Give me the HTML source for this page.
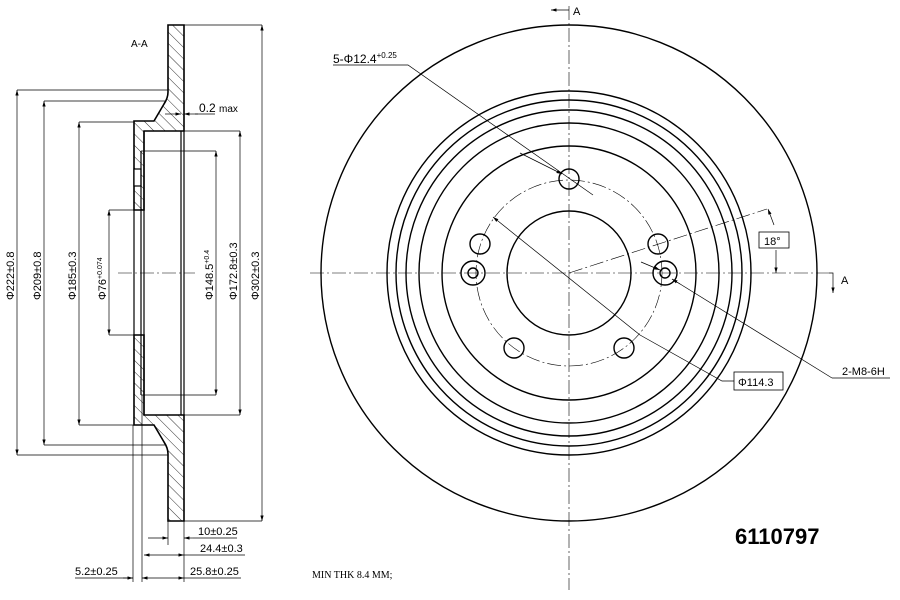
<!DOCTYPE html>
<html><head><meta charset="utf-8"><style>
html,body{margin:0;padding:0;background:#fff;width:900px;height:600px;overflow:hidden}
svg{display:block}
text{font-family:"Liberation Sans",sans-serif;fill:#000}
</style></head><body>
<svg width="900" height="600" viewBox="0 0 900 600" xmlns="http://www.w3.org/2000/svg">
<defs>
<pattern id="h" patternUnits="userSpaceOnUse" width="8" height="8" patternTransform="rotate(-45)">
<line x1="0" y1="0" x2="0" y2="8" stroke="#000" stroke-width="0.8"/>
</pattern>
<marker id="a" viewBox="0 0 10 6" refX="10" refY="3" markerWidth="8" markerHeight="5" orient="auto-start-reverse"><path d="M0,0 L10,3 L0,6 z" fill="#000"/></marker>
</defs>
<g fill="none" stroke="#000" stroke-width="1">
<!-- section solid parts -->
<path d="M168,25 L184,25 L184,131 L144,131 L144,210 L134,210 L134,121 L154,121 L164,104 Q168,98 168,92 Z" fill="url(#h)" stroke-width="1.6"/>
<path d="M168,521 L184,521 L184,415 L144,415 L144,335 L134,335 L134,425 L154,425 L164,442 Q168,448 168,454 Z" fill="url(#h)" stroke-width="1.6"/>
<rect x="134" y="169" width="7" height="17" fill="#fff" stroke-width="1.2"/>
<path d="M144,131 V415 M141,151 V395 M134,210 V335 M181,131 V415 M184,131 V415" stroke-width="1.2"/>
<path d="M141,151 H216 M141,395 H216 M184,131 H240 M184,415 H240 M184,25 H262 M184,521 H262 M17,90 H168 M17,455 H168 M44,101 H166 M44,445 H166 M79,122 H134 M79,425 H134 M109,210 H134 M109,335 H134" stroke-width="0.7"/>
<!-- vertical dims -->
<g stroke-width="0.7" marker-start="url(#a)" marker-end="url(#a)">
<line x1="262" y1="25" x2="262" y2="521"/>
<line x1="17" y1="90" x2="17" y2="455"/>
<line x1="44" y1="101" x2="44" y2="445"/>
<line x1="79" y1="122" x2="79" y2="425"/>
<line x1="240" y1="131" x2="240" y2="415"/>
<line x1="216" y1="151" x2="216" y2="395"/>
</g>
<line x1="109" y1="210" x2="109" y2="335" stroke-width="0.7" marker-start="url(#a)" marker-end="url(#a)"/>
<line x1="118" y1="273" x2="195" y2="273" stroke-width="0.6" stroke-dasharray="14,3,2,3"/>
<!-- extension lines bottom -->
<path d="M133,425 V582 M142,395 V582 M168,521 V545 M184,521 V582" stroke-width="0.7"/>
<g stroke-width="0.7">
<line x1="148" y1="538" x2="168" y2="538" marker-end="url(#a)"/><line x1="193" y1="538" x2="184" y2="538" marker-end="url(#a)"/><line x1="193" y1="538" x2="237" y2="538"/>
<line x1="144" y1="555" x2="184" y2="555" marker-start="url(#a)" marker-end="url(#a)"/><line x1="184" y1="555" x2="245" y2="555"/>
<line x1="75" y1="578" x2="133" y2="578"/><line x1="123" y1="578" x2="133" y2="578" marker-end="url(#a)"/>
<line x1="142" y1="578" x2="184" y2="578" marker-start="url(#a)" marker-end="url(#a)"/><line x1="184" y1="578" x2="241" y2="578"/>
<line x1="165" y1="114" x2="181" y2="114" marker-end="url(#a)"/><line x1="198" y1="114" x2="184" y2="114" marker-end="url(#a)"/><line x1="195" y1="114" x2="215" y2="114"/>
</g>
<!-- right disc -->
<g stroke-width="1.4">
<circle cx="569" cy="273" r="248"/>
<circle cx="569" cy="273" r="182"/>
<circle cx="569" cy="273" r="173"/>
<circle cx="569" cy="273" r="163"/>
<circle cx="569" cy="273" r="150"/>
<circle cx="569" cy="273" r="127"/>
<circle cx="569" cy="273" r="62"/>
<circle cx="569" cy="179" r="10"/>
<circle cx="480" cy="244" r="10"/>
<circle cx="658" cy="244" r="10"/>
<circle cx="514" cy="348" r="10"/>
<circle cx="624" cy="348" r="10"/>
<circle cx="473" cy="273" r="12"/><circle cx="473" cy="273" r="5"/>
<circle cx="665" cy="273" r="12"/><circle cx="665" cy="273" r="5"/>
</g>
<circle cx="569" cy="273" r="93" stroke-width="0.6" stroke-dasharray="14,3,2,3"/>
<line x1="569" y1="6" x2="569" y2="590" stroke-width="0.6" stroke-dasharray="14,3,2,3"/>
<line x1="310" y1="273" x2="829" y2="273" stroke-width="0.6" stroke-dasharray="14,3,2,3"/>
<line x1="569" y1="273" x2="767" y2="209" stroke-width="0.6" stroke-dasharray="14,3,2,3"/>
<g stroke-width="0.7">
<path d="M569,10 H551" marker-end="url(#a)"/>
<path d="M829,273 H833 V293" marker-end="url(#a)"/>
<path d="M333,65 H408 L593,195" />
<line x1="520" y1="153" x2="562" y2="174" marker-end="url(#a)"/>
<line x1="493" y1="217" x2="640" y2="335" marker-start="url(#a)"/>
<path d="M640,335 L722,381 H734"/>
<line x1="672" y1="279" x2="832" y2="378"/><line x1="680" y1="284" x2="672" y2="279" marker-end="url(#a)"/>
<line x1="832" y1="378" x2="890" y2="378"/>
<path d="M641,262 L660,270" marker-end="url(#a)"/>
<line x1="776" y1="250" x2="776" y2="273" marker-end="url(#a)"/>
<line x1="774" y1="225" x2="768" y2="209" marker-end="url(#a)"/>
</g>
<rect x="759" y="232" width="30" height="16" stroke-width="0.8"/>
<rect x="734" y="372" width="49" height="18" stroke-width="0.8"/>
</g>
<g font-size="11">
<text x="131" y="47" font-size="10">A-A</text>
<text x="199" y="112" font-size="12">0.2 <tspan font-size="10">max</tspan></text>
<text x="198" y="535">10±0.25</text>
<text x="200" y="552">24.4±0.3</text>
<text x="75" y="575">5.2±0.25</text>
<text x="190" y="575">25.8±0.25</text>
<text transform="translate(14,300) rotate(-90)">Φ222±0.8</text>
<text transform="translate(41,300) rotate(-90)">Φ209±0.8</text>
<text transform="translate(76,300) rotate(-90)">Φ185±0.3</text>
<text transform="translate(106,300) rotate(-90)">Φ76<tspan font-size="7" dy="-4">+0.074</tspan></text>
<text transform="translate(213,300) rotate(-90)">Φ148.5<tspan font-size="7" dy="-4">+0.4</tspan></text>
<text transform="translate(237,300) rotate(-90)">Φ172.8±0.3</text>
<text transform="translate(259,300) rotate(-90)">Φ302±0.3</text>
<text x="333" y="63" font-size="12">5-Φ12.4<tspan font-size="8" dy="-5">+0.25</tspan></text>
<text x="573" y="15" font-size="11">A</text>
<text x="841" y="284" font-size="11">A</text>
<text x="764" y="245" font-size="11">18°</text>
<text x="738" y="386" font-size="11">Φ114.3</text>
<text x="842" y="375" font-size="11">2-M8-6H</text>
<text x="735" y="544" font-size="22" font-weight="bold">6110797</text>
<text x="312" y="578" font-size="10" style="font-family:'Liberation Serif',serif">MIN THK 8.4 MM;</text>
</g>
</svg>
</body></html>
